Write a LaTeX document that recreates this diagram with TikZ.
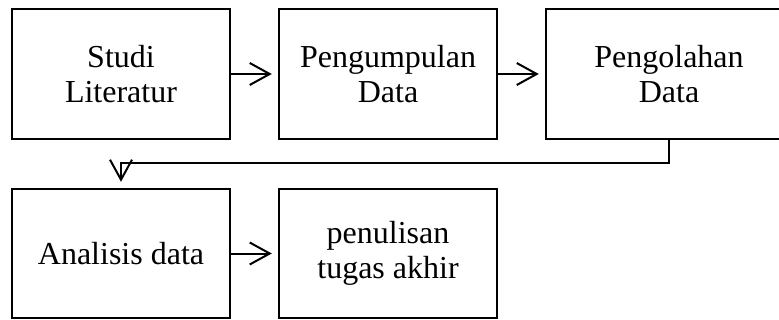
\documentclass[tikz,border=0pt]{standalone}
\usepackage{fontspec}
\setmainfont{Liberation Serif}
\usetikzlibrary{arrows.meta,positioning}
\begin{document}
\begin{tikzpicture}[x=0.5pt,y=-0.5pt,
    kotak/.style={draw,line width=1.2pt,minimum width=109pt,minimum height=65pt,
      inner sep=0pt,align=center,font=\fontsize{16}{17.5}\selectfont},
    panah/.style={line width=1pt,-{Straight Barb[length=10pt,width=11pt,line width=1pt]},shorten >=3pt}]
    \clip (0,0) rectangle (779,320);
    \node[kotak] (studi) at (121,74) {Studi\\Literatur};
    \node[kotak] (kumpul) at (388,74) {Pengumpulan\\Data};
    \node[kotak,minimum width=123pt] (olah) at (669,74) {Pengolahan\\Data};
    \node[kotak,minimum height=64.5pt] (analisis) at (121,253.5) {Analisis data};
    \node[kotak,minimum height=64.5pt] (tulis) at (388,253.5) {penulisan\\tugas akhir};
    \coordinate (belok) at (669,163);
    \draw[panah](studi)--(kumpul);
    \draw[panah](kumpul)--(olah);
    \draw[panah](olah.south)--(belok)-|(analisis.north);
    \draw[panah](analisis)--(tulis);
  \end{tikzpicture}
\end{document}
